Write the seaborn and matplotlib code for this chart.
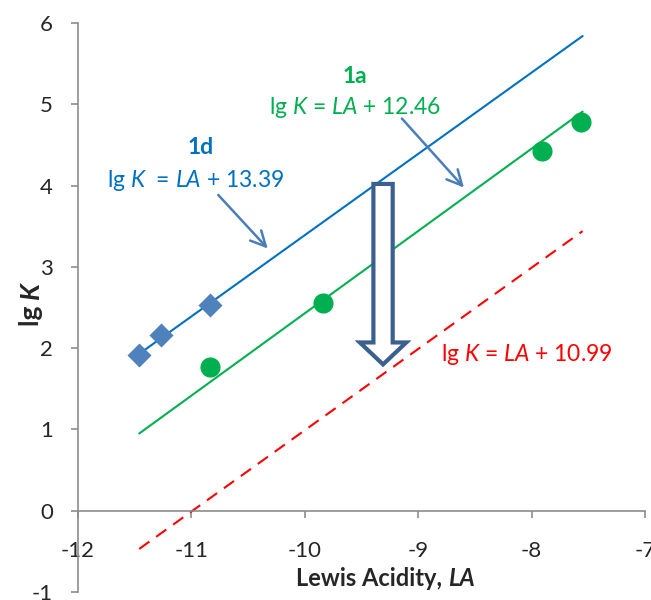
import matplotlib
matplotlib.use("Agg")
import matplotlib.pyplot as plt
import matplotlib.patches as mpatches
import seaborn as sns
import pandas as pd

# ---- data ----
d_x = [-11.46, -11.27, -10.84]          # 1d (diamonds)
d_y = [1.91, 2.16, 2.53]
a_x = [-10.84, -9.84, -7.91, -7.56]     # 1a (circles)
a_y = [1.77, 2.56, 4.43, 4.78]

line_x = [-11.46, -7.55]
blue_line_y = [1.93, 5.84]      # lg K = LA + 13.39
green_line_y = [0.95, 4.91]     # lg K = LA + 12.46
red_line_y = [-0.47, 3.44]      # lg K = LA + 10.99

x_ticks = [-12, -11, -10, -9, -8, -7]
y_ticks = [-1, 0, 1, 2, 3, 4, 5, 6]

sns.set_theme(style="white")
plt.rcParams['font.family'] = ['Lato', 'DejaVu Sans']
plt.rcParams['mathtext.fontset'] = 'custom'
plt.rcParams['mathtext.it'] = 'Lato:italic'
plt.rcParams['mathtext.rm'] = 'Lato'

fig = plt.figure(figsize=(6.51, 6.0), dpi=100)
ax = fig.add_axes([78/651, 1-592/600, (645-78)/651, (592-23)/600])

lines_df = pd.DataFrame({
    "x": line_x * 3,
    "y": blue_line_y + green_line_y + red_line_y,
    "s": ["1d"] * 2 + ["1a"] * 2 + ["ref"] * 2,
})
sns.lineplot(data=lines_df[lines_df.s == "1d"], x="x", y="y", color="#0070C0", lw=1.5, ax=ax)
sns.lineplot(data=lines_df[lines_df.s == "1a"], x="x", y="y", color="#00B050", lw=1.5, ax=ax)
sns.lineplot(data=lines_df[lines_df.s == "ref"], x="x", y="y", color="#FF0000", lw=1.5,
             ax=ax, linestyle=(0, (6, 4)))

sns.scatterplot(x=d_x, y=d_y, marker="D", s=150, color="#4F81BD", edgecolor="#4F81BD",
                linewidth=0, ax=ax, zorder=5)
sns.scatterplot(x=a_x, y=a_y, marker="o", s=210, color="#00B050", edgecolor="#00B050",
                linewidth=0, ax=ax, zorder=5)

ax.set_xlim(-12, -7)
ax.set_ylim(-1, 6)
ax.set_xticks(x_ticks)
ax.set_yticks(y_ticks)
ax.set_xticklabels([str(t) for t in x_ticks])
ax.set_yticklabels([str(t) for t in y_ticks])

for s in ["top", "right"]:
    ax.spines[s].set_visible(False)
ax.spines["bottom"].set_position(("data", 0))
for s in ["left", "bottom"]:
    ax.spines[s].set_color("#8C8C8C")
    ax.spines[s].set_linewidth(1.2)
ax.tick_params(axis="x", direction="out", length=5, width=1.2, color="#8C8C8C",
               labelsize=16, pad=17, bottom=True)
ax.tick_params(axis="y", direction="out", length=5, width=1.2, color="#8C8C8C",
               labelsize=16, pad=13, left=True)
ax.grid(False)

ax.set_xlabel("")
ax.set_ylabel("")

# axis titles (bold, with bold-italic symbol)
t1 = fig.text(448/651, 1-578/600, "Lewis Acidity, ", ha="right", va="center",
              fontsize=17, fontweight="bold")
ax.annotate("LA", xy=(1, 0.5), xycoords=t1, ha="left", va="center",
            fontsize=17, fontweight="bold", style="italic")
t2 = fig.text(31/651, 1-326/600, "lg ", rotation=90, ha="center", va="bottom",
              fontsize=19, fontweight="bold")
ax.annotate("K", xy=(0.5, 1), xycoords=t2, ha="center", va="bottom", rotation=90,
            fontsize=19, fontweight="bold", style="italic")

# annotations
fs = 16.5
ax.text(-10.92, 4.47, "1d", color="#0070C0", fontsize=fs, fontweight="bold", ha="center", va="center")
ax.text(-10.96, 4.06, r"lg $K$  = $LA$ + 13.39", color="#0070C0", fontsize=fs, ha="center", va="center")
ax.text(-9.56, 5.34, "1a", color="#00B050", fontsize=fs, fontweight="bold", ha="center", va="center")
ax.text(-9.56, 4.96, r"lg $K$ = $LA$ + 12.46", color="#00B050", fontsize=fs, ha="center", va="center")
ax.text(-8.04, 1.92, r"lg $K$ = $LA$ + 10.99", color="#FF0000", fontsize=fs, ha="center", va="center")

arrow_kw = dict(arrowstyle="->,head_length=0.9,head_width=0.45", color="#4A7EBB", lw=1.8)
ax.annotate("", xy=(-10.31, 3.20), xytext=(-10.78, 3.91), arrowprops=arrow_kw)
ax.annotate("", xy=(-8.58, 3.95), xytext=(-9.16, 4.85), arrowprops=arrow_kw)

big = mpatches.FancyArrow(-9.31, 4.02, 0, -2.22, width=0.17, head_width=0.41,
                          head_length=0.27, length_includes_head=True,
                          facecolor="white", edgecolor="#3B5F8F", linewidth=3, zorder=6)
ax.add_patch(big)

fig.savefig("out.png", dpi=100)
